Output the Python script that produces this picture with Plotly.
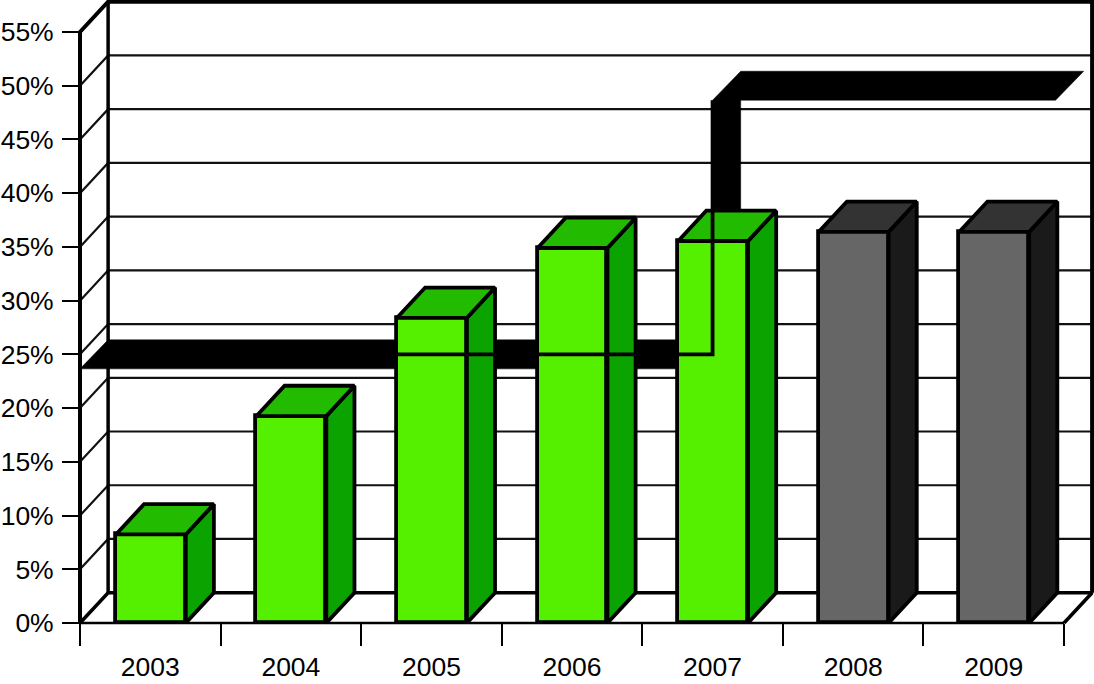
import plotly.graph_objects as go

years = ["2003", "2004", "2005", "2006", "2007", "2008", "2009"]
bar_values = [8.24, 19.26, 28.4, 34.9, 35.55, 36.4, 36.4]
target_values = [25, 25, 25, 25, 50, 50, 50]
y_ticks = [0, 5, 10, 15, 20, 25, 30, 35, 40, 45, 50, 55]

# drawing constants for the pseudo-3D look (axis units)
DX = 0.2        # depth in category units
DY = 2.82       # depth in percent units
BAR_W = 0.497
BAR_SHIFT = 0.004
RIB_H = 1.35
X0, X1 = -0.5, 6.5
YMAX = y_ticks[-1]
RIB_END = 6.44
n_actual = 5

# canvas layout: the plot area fills the page, axes sit at free positions
W, H = 1094, 684
LEFT, RIGHT, TOP, BOTTOM = 80, 30, 32, 61
ux = (W - LEFT - RIGHT) / (X1 - X0)
uy = (H - TOP - BOTTOM) / YMAX
XR = [X0 - LEFT / ux, X1 + RIGHT / ux]
YR = [-BOTTOM / uy, YMAX + TOP / uy]

FRONT = ["#55F000"] * n_actual + ["#666666"] * (len(years) - n_actual)
SIDE_G, TOP_G = "#0AA300", "#22BB00"
SIDE_K, TOP_K = "#1A1A1A", "#333333"
LINE = "#000000"
xs = list(range(len(years)))
bar_x = [i + BAR_SHIFT for i in xs]

fig = go.Figure()


def path(x, y, width, xa="x", ya="y", color=LINE):
    fig.add_trace(go.Scatter(x=x, y=y, mode="lines", xaxis=xa, yaxis=ya,
                             line=dict(color=color, width=width), hoverinfo="skip", showlegend=False))


def poly(x, y, fill, width=3.8, xa="x", ya="y"):
    fig.add_trace(go.Scatter(x=x, y=y, mode="lines", fill="toself", fillcolor=fill, xaxis=xa, yaxis=ya,
                             line=dict(color=LINE, width=width),
                             hoverinfo="skip", showlegend=False))


# gridlines on left and back walls
gx, gy = [], []
for v in y_ticks[1:-1]:
    gx += [X0, X0 + DX, X1 + DX, None]
    gy += [v, v + DY, v + DY, None]
path(gx, gy, 2.2, color="#111111")

# stepped target ribbon
step = next(i for i, v in enumerate(target_values) if v != target_values[0])
lo, hi = target_values[0], target_values[-1]
rx = [X0, X0 + DX, step, step, step + DX, RIB_END + DX, RIB_END, step + DX, step + DX, X0]
ry = [lo - RIB_H, lo + RIB_H, lo + RIB_H, hi - RIB_H, hi + RIB_H, hi + RIB_H, hi - RIB_H,
      hi - RIB_H, lo - RIB_H, lo - RIB_H]
fig.add_trace(go.Scatter(x=rx, y=ry, mode="lines", fill="toself", fillcolor=LINE,
                         line=dict(color=LINE, width=0.5), hoverinfo="skip", showlegend=False))

# frame: walls and floor
path([X0, X0, X0 + DX, X1 + DX, X1 + DX], [0, YMAX, YMAX + DY, YMAX + DY, DY], 4)
path([X0 + DX, X0 + DX], [DY, YMAX + DY], 3.5)
path([X0, X0 + DX, X1 + DX, X1], [0, DY, DY, 0], 3.5)
path([X0, X1], [0, 0], 2.5)

# bars
fig.add_trace(go.Bar(x=bar_x, y=bar_values, width=BAR_W, xaxis="x2", yaxis="y2",
                     marker=dict(color=FRONT, line=dict(color=LINE, width=3.8)),
                     hoverinfo="skip", showlegend=False))
for c, v, i in zip(bar_x, bar_values, xs):
    l, r = c - BAR_W / 2, c + BAR_W / 2
    actual = i < n_actual
    poly([r, r + DX, r + DX, r, r], [0, DY, v + DY, v, 0], SIDE_G if actual else SIDE_K, xa="x2", ya="y2")
    poly([l, l + DX, r + DX, r, l], [v, v + DY, v + DY, v, v], TOP_G if actual else TOP_K, xa="x2", ya="y2")

# target line over bars
path([X0 + DX, step, step], [lo, lo, hi - RIB_H], 3.8, xa="x2", ya="y2")

fig.update_layout(
    width=W, height=H, margin=dict(l=0, r=0, t=0, b=0, pad=0, autoexpand=False),
    paper_bgcolor="white", plot_bgcolor="white", bargap=0,
    font=dict(family="Liberation Sans, Arial, sans-serif", size=26.5, color="black"),
    xaxis=dict(range=XR, domain=[0, 1], anchor="free", position=BOTTOM / H, automargin=False,
               tickmode="array", tickvals=xs, ticktext=years, ticks="", showgrid=False,
               zeroline=False, showline=False, ticklabelstandoff=25,
               minor=dict(tickmode="array", tickvals=[i - 0.5 for i in range(len(years) + 1)],
                          ticks="outside", ticklen=22, tickwidth=2, tickcolor=LINE, showgrid=False)),
    yaxis=dict(range=YR, domain=[0, 1], anchor="free", position=LEFT / W, automargin=False,
               tickmode="array", tickvals=y_ticks, ticktext=[f"{v}%" for v in y_ticks],
               ticks="outside", ticklen=18, tickwidth=2, tickcolor=LINE, showgrid=False, zeroline=False,
               showline=False, ticklabelstandoff=3),
    xaxis2=dict(range=XR, overlaying="x", anchor="y2", visible=False),
    yaxis2=dict(range=YR, overlaying="y", anchor="x2", visible=False),
)

fig.write_html("out.html", config=dict(displayModeBar=False),
               post_script="document.body.style.margin='0';")
